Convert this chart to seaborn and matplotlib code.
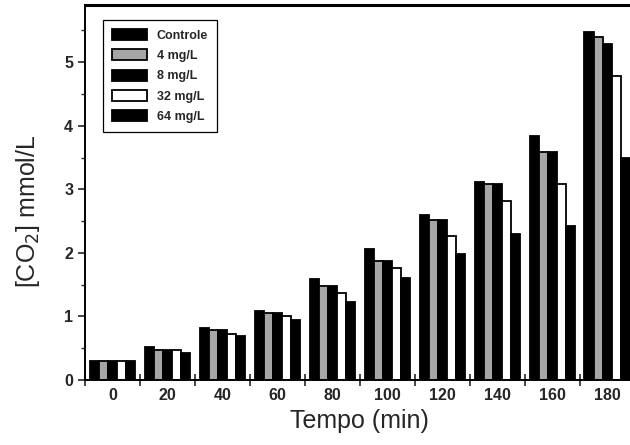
import matplotlib
matplotlib.use("Agg")
import matplotlib.pyplot as plt
from matplotlib.ticker import FixedLocator, MultipleLocator
import seaborn as sns
import pandas as pd

# Tempo de reação (min)
tempo = [0, 20, 40, 60, 80, 100, 120, 140, 160, 180]

# Concentração de CO2 (mmol/L) por dose
controle = [0.30, 0.52, 0.82, 1.09, 1.59, 2.06, 2.59, 3.11, 3.84, 5.48]
dose_4 = [0.30, 0.47, 0.79, 1.06, 1.48, 1.88, 2.51, 3.09, 3.59, 5.39]
dose_8 = [0.30, 0.47, 0.79, 1.06, 1.48, 1.88, 2.51, 3.09, 3.59, 5.29]
dose_32 = [0.30, 0.47, 0.73, 1.00, 1.37, 1.77, 2.26, 2.82, 3.08, 4.78]
dose_64 = [0.30, 0.43, 0.69, 0.95, 1.23, 1.60, 1.99, 2.30, 2.42, 3.50]

series_names = ["Controle", "4 mg/L", "8 mg/L", "32 mg/L", "64 mg/L"]
series_values = [controle, dose_4, dose_8, dose_32, dose_64]
series_colors = ["#000000", "#a6a6a6", "#000000", "#ffffff", "#000000"]

rows = []
for name, vals in zip(series_names, series_values):
    for t, v in zip(tempo, vals):
        rows.append({"Tempo": t, "CO2": v, "Dose": name})
df = pd.DataFrame(rows)

sns.set_style("ticks")
plt.rcParams["font.family"] = ["Liberation Sans", "DejaVu Sans"]

fig = plt.figure(figsize=(6.3, 4.45), dpi=100)
ax = fig.add_axes([85 / 630, 1 - 380 / 445, 549.5 / 630, 375 / 445])

sns.barplot(
    data=df, x="Tempo", y="CO2", hue="Dose",
    hue_order=series_names, palette=series_colors,
    width=0.82, saturation=1, edgecolor="black", linewidth=1.3,
    errorbar=None, ax=ax,
)

ax.set_xlim(-0.5, 9.5)
ax.set_ylim(0, 5.9)

# x axis: labels under each group, crossing ticks between groups
ax.xaxis.set_major_locator(FixedLocator(range(len(tempo))))
ax.set_xticklabels([str(t) for t in tempo])
ax.xaxis.set_minor_locator(FixedLocator([i - 0.5 for i in range(len(tempo) + 1)]))
ax.tick_params(axis="x", which="major", length=0, pad=6, labelsize=11.5)
ax.tick_params(axis="x", which="minor", direction="inout", length=8, width=1.2)

# y axis
ax.yaxis.set_major_locator(MultipleLocator(1))
ax.yaxis.set_minor_locator(MultipleLocator(0.5))
ax.tick_params(axis="y", which="major", direction="out", length=5, width=1.2, labelsize=11.5)
ax.tick_params(axis="y", which="minor", direction="out", length=3, width=1.0)
for lab in ax.get_xticklabels() + ax.get_yticklabels():
    lab.set_fontweight("bold")

for side in ["left", "bottom", "right"]:
    ax.spines[side].set_linewidth(1.4)
ax.spines["top"].set_linewidth(2.2)
for s in ax.spines.values():
    s.set_color("black")
    s.set_visible(True)

ax.set_xlabel("Tempo (min)", fontsize=18)
ax.set_ylabel("[CO$_2$] mmol/L", fontsize=18)
ax.yaxis.set_label_coords(-0.078, 0.45)

leg = ax.legend(
    loc="upper left", bbox_to_anchor=(0.033, 0.96), borderaxespad=0,
    fontsize=9, handlelength=2.8, handleheight=1.0, labelspacing=0.6,
    handletextpad=0.8, borderpad=0.7, fancybox=False, framealpha=1,
    edgecolor="black", title=None,
)
leg.get_frame().set_linewidth(0.9)
for txt in leg.get_texts():
    txt.set_fontweight("bold")

fig.savefig("out.png", dpi=100)
